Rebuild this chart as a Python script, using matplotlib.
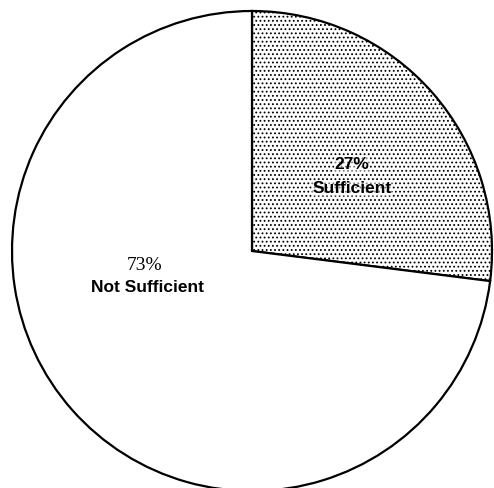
import matplotlib.pyplot as plt

# --- data ---
categories = ["Sufficient", "Not Sufficient"]
shares = [27, 73]

W, H = 494, 489
CX, CY, R = 252, 489 - 252, 240

fig = plt.figure(figsize=(W / 100, H / 100), dpi=100)
ax = fig.add_axes([0, 0, 1, 1])

plt.rcParams['hatch.linewidth'] = 0.8
wedges, _ = ax.pie(shares, startangle=90, counterclock=False,
                   center=(CX, CY), radius=R, frame=True,
                   wedgeprops=dict(facecolor="white", edgecolor="black", linewidth=1.6))
wedges[0].set_hatch("....")

ax.set_xlim(0, W)
ax.set_ylim(0, H)
ax.set_aspect("equal")
ax.axis("off")

# labels
ax.text(352, H - 165, f"{shares[0]}%", ha="center", va="center",
        family="Liberation Sans", weight="bold", fontsize=12.5,
        bbox=dict(facecolor="white", edgecolor="none", pad=0.5, alpha=0.5))
ax.text(352, H - 189, categories[0], ha="center", va="center",
        family="Liberation Sans", weight="bold", fontsize=12.5,
        bbox=dict(facecolor="white", edgecolor="none", pad=0.5, alpha=0.5))
ax.text(145, H - 266, f"{shares[1]}%", ha="center", va="center",
        family="Liberation Serif", fontsize=14)
ax.text(147, H - 288, categories[1], ha="center", va="center",
        family="Liberation Sans", weight="bold", fontsize=12.5)

fig.savefig("out.png", dpi=100)
